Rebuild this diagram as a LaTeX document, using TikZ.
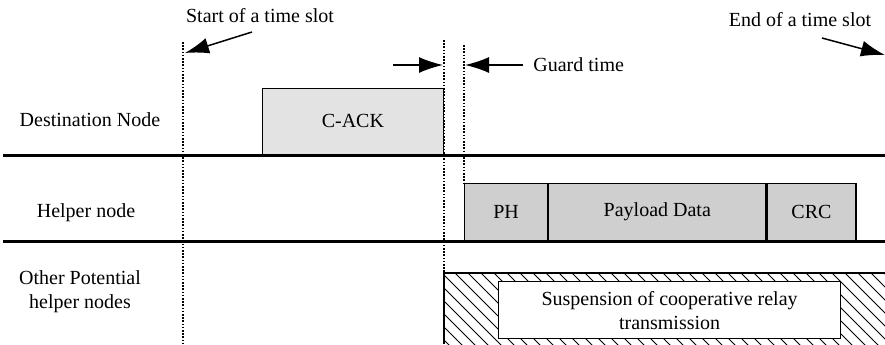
\documentclass[tikz,border=0pt]{standalone}
\usepackage{fontspec}
\setmainfont{Liberation Serif}
\usetikzlibrary{arrows.meta,positioning}

\begin{document}
\begin{tikzpicture}[x=0.5pt,y=-0.5pt,
  every node/.style={font=\fontsize{10}{12}\selectfont, inner sep=0pt},
  lane/.style={line width=1.5pt},
  tick/.style={dash pattern=on 0.8pt off 0.8pt, line width=0.8pt},
  pointer/.style={line width=0.75pt, -{Latex[length=12pt,width=8pt]}},
  frame/.style={draw=black, line width=0.6pt, minimum height=28.5pt},
  hatch/.style={line width=0.45pt}]
\useasboundingbox (0,0) rectangle (885,344);

% row labels
\node (dest) at (90,120) {Destination Node};
\node (help) at (86,213) {Helper node};
\node (other) [align=center] at (80,292) {Other Potential\\helper nodes};

% time lines of the rows
\coordinate (d0) at (3,155);  \coordinate (d1) at (885,155);
\coordinate (h0) at (3,241);  \coordinate (h1) at (885,241);
\draw [lane] (d0) -- (d1);
\draw [lane] (h0) -- (h1);

% C-ACK sent by the destination
\node [frame, fill=black!11, minimum width=90.5pt, minimum height=33pt, anchor=south east] (cack) at (444,155) {C-ACK};

% frame sent by the helper
\node [frame, fill=black!19, minimum width=41.5pt, anchor=south west] (ph) at (464,241) {PH};
\node [frame, fill=black!19, minimum width=108.5pt, anchor=west] (pay) at (ph.east) {Payload Data};
\node [frame, fill=black!19, minimum width=44.5pt, anchor=west] (crc) at (pay.east) {CRC};

% suspended helpers
\coordinate (s0) at (444,273);
\coordinate (s1) at (885,344);
\begin{scope}
  \clip (s0) rectangle (s1);
  \foreach \i in {364,377,...,885}
    \draw [hatch] (\i,273) -- ++(80,80);
\end{scope}
\draw [line width=0.6pt] (444,344) -- (s0) -- (885,273);
\node [frame, fill=white, minimum width=171pt, align=center, anchor=north west] (susp) at (498,281)
  {Suspension of cooperative relay\\transmission};

% slot boundaries
\coordinate (t0) at (183,42);   \coordinate (t1) at (183,344);
\coordinate (g0) at (444,40);
\coordinate (g1) at (464,45);
\draw [tick] (t0) -- (t1);
\draw [tick] (g0) -- (s0);
\draw [tick] (g1) -- (ph.north west);

% annotations
\node (start) at (260,16) {Start of a time slot};
\node (end) at (800,20) {End of a time slot};
\node (guard) [anchor=west] at (533,65) {Guard time};
\coordinate (a0) at (252,32);   \coordinate (a1) at (185,53);
\coordinate (b0) at (822,38);   \coordinate (b1) at (885,55);
\coordinate (c0) at (393,65);   \coordinate (c1) at (443,65);
\coordinate (e0) at (523,65);   \coordinate (e1) at (465,65);
\draw [pointer] (a0) -- (a1);
\draw [pointer] (b0) -- (b1);
\draw [pointer] (c0) -- (c1);
\draw [pointer] (e0) -- (e1);
\end{tikzpicture}
\end{document}
